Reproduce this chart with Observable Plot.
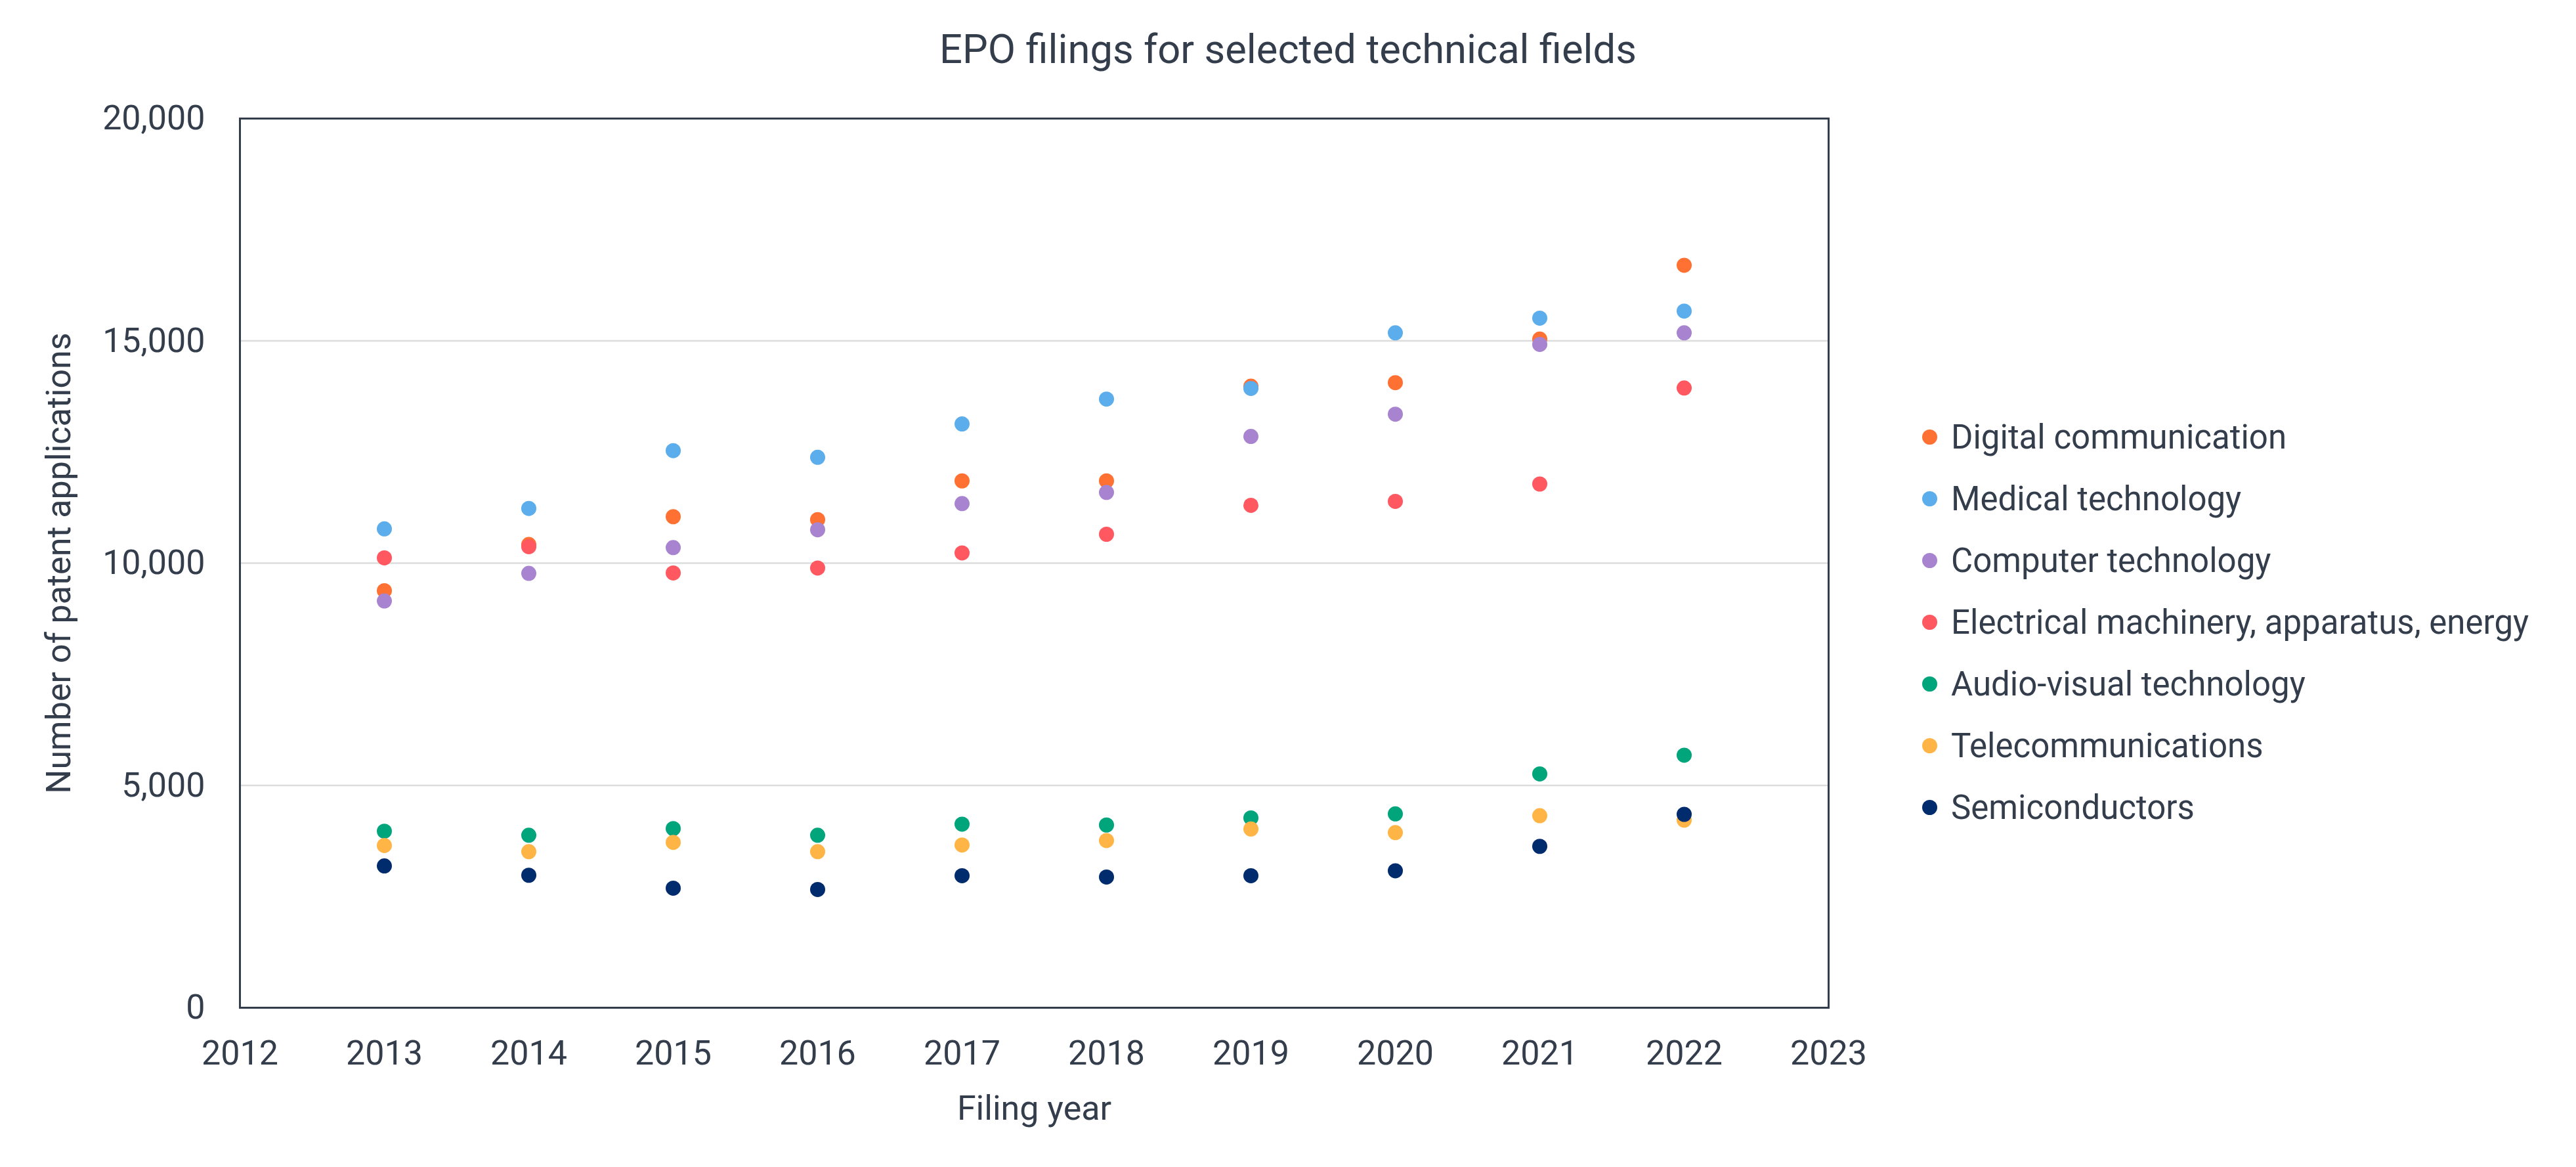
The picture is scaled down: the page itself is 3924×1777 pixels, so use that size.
<!DOCTYPE html>
<html><head><meta charset="utf-8">
<script src="https://cdn.jsdelivr.net/npm/d3@7"></script>
<script src="https://cdn.jsdelivr.net/npm/@observablehq/plot@0.6"></script>
<style>
html,body{margin:0;padding:0;background:#fff;}
body{width:3924px;height:1777px;position:relative;font-family:Roboto,"Noto Sans",sans-serif;color:#333d4b;overflow:hidden;}
#title{position:absolute;left:0;width:3924px;top:45px;text-align:center;font-size:61.5px;line-height:1;white-space:nowrap;}
#chart{position:absolute;left:0;top:120px;}
#legend{position:absolute;left:2928px;top:618px;}
.row{display:flex;align-items:center;height:94px;font-size:51px;white-space:nowrap;}
.sw{width:23px;height:23px;border-radius:50%;margin-right:21px;flex:none;}
</style></head><body>
<div id="title">EPO filings for selected technical fields</div>
<div id="chart"></div>
<div id="legend"></div>
<script>
const years = [2013, 2014, 2015, 2016, 2017, 2018, 2019, 2020, 2021, 2022];
const seriesNames = ["Digital communication", "Medical technology", "Computer technology", "Electrical machinery, apparatus, energy", "Audio-visual technology", "Telecommunications", "Semiconductors"];
const seriesColors = ["#ff7033", "#5badec", "#a884d0", "#ff5860", "#00a57c", "#ffb546", "#002c6e"];
const digitalCommunication = [9380, 10420, 11045, 10980, 11850, 11850, 13980, 14060, 15040, 16700];
const medicalTechnology = [10770, 11230, 12530, 12380, 13130, 13690, 13930, 15180, 15510, 15670];
const computerTechnology = [9150, 9770, 10350, 10750, 11340, 11590, 12850, 13350, 14920, 15180];
const electricalMachinery = [10120, 10370, 9780, 9890, 10230, 10650, 11300, 11390, 11780, 13940];
const audioVisual = [3970, 3880, 4030, 3880, 4130, 4110, 4270, 4360, 5260, 5680];
const telecommunications = [3650, 3510, 3720, 3510, 3660, 3760, 4020, 3940, 4320, 4220];
const semiconductors = [3190, 2980, 2690, 2660, 2970, 2940, 2970, 3080, 3630, 4350];
const xTicks = [2012, 2013, 2014, 2015, 2016, 2017, 2018, 2019, 2020, 2021, 2022, 2023];
const yTicks = [0, 5000, 10000, 15000, 20000];
const gridTicks = [5000, 10000, 15000];

const seriesValues = [digitalCommunication, medicalTechnology, computerTechnology, electricalMachinery, audioVisual, telecommunications, semiconductors];
const data = [];
seriesNames.forEach((name, i) => {
  years.forEach((year, j) => data.push({series: name, year, value: seriesValues[i][j]}));
});

const chart = Plot.plot({
  width: 2900,
  height: 1640,
  marginTop: 60,
  marginBottom: 226,
  marginLeft: 365,
  marginRight: 115,
  style: {fontFamily: "Roboto, 'Noto Sans', sans-serif", fontSize: "52px", color: "#333d4b", background: "transparent"},
  x: {domain: [2012, 2023]},
  y: {domain: [0, 20000]},
  color: {domain: seriesNames, range: seriesColors},
  marks: [
    Plot.gridY(gridTicks, {stroke: "#dcdcdc", strokeOpacity: 1, strokeWidth: 2.5}),
    Plot.frame({stroke: "#333d4b", strokeWidth: 3}),
    Plot.axisX(xTicks, {tickSize: 0, tickPadding: 50, tickFormat: d => String(d), label: "Filing year", labelAnchor: "center", labelOffset: 170, labelArrow: "none"}),
    Plot.axisY(yTicks, {tickSize: 0, tickPadding: 53, tickFormat: d3.format(","), label: "Number of patent applications", labelAnchor: "center", labelOffset: 295, labelArrow: "none"}),
    Plot.dot(data, {x: "year", y: "value", fill: "series", r: 11.5})
  ]
});
document.getElementById("chart").appendChild(chart);

const legend = document.getElementById("legend");
seriesNames.forEach((name, i) => {
  const row = document.createElement("div");
  row.className = "row";
  const sw = document.createElement("span");
  sw.className = "sw";
  sw.style.background = seriesColors[i];
  const label = document.createElement("span");
  label.textContent = name;
  row.appendChild(sw);
  row.appendChild(label);
  legend.appendChild(row);
});
</script>
</body></html>
